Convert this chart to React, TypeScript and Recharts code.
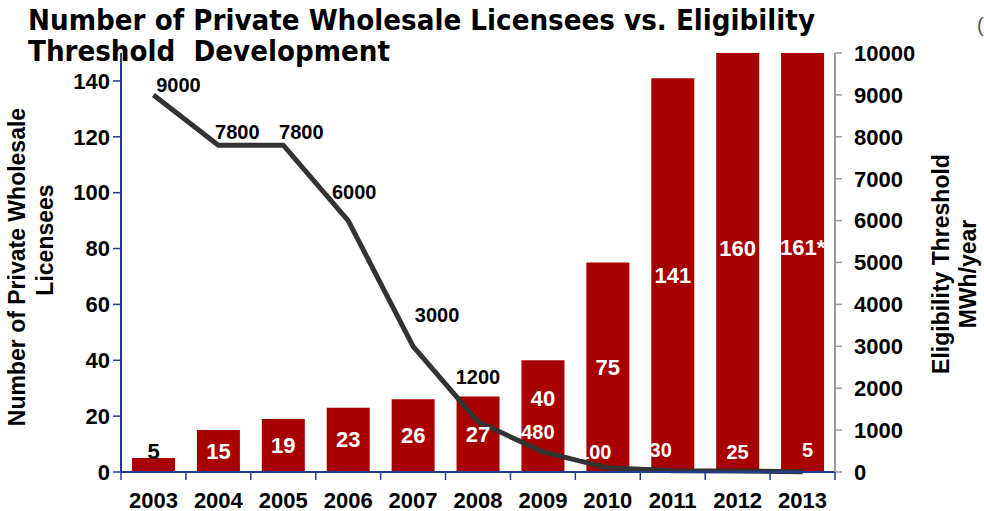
import React from 'react';
import { ComposedChart, Bar, Line, XAxis, YAxis, LabelList } from 'recharts';

const years = ['2003', '2004', '2005', '2006', '2007', '2008', '2009', '2010', '2011', '2012', '2013'];
const licensees = [5, 15, 19, 23, 26, 27, 40, 75, 141, 160, 161];
const licenseeLabels = ['5', '15', '19', '23', '26', '27', '40', '75', '141', '160', '161*'];
const threshold = [9000, 7800, 7800, 6000, 3000, 1200, 480, 100, 30, 25, 5];
const leftTicks = [0, 20, 40, 60, 80, 100, 120, 140];
const rightTicks = [0, 1000, 2000, 3000, 4000, 5000, 6000, 7000, 8000, 9000, 10000];

const data = years.map((year, i) => ({
  year,
  licensees: licensees[i],
  licenseeLabel: licenseeLabels[i],
  threshold: threshold[i],
}));

// label placement styles (offsets from the point, in px)
const lineLabelStyle = [
  { dx: 25, dy: -10, fill: '#000' },
  { dx: 19, dy: -13, fill: '#000' },
  { dx: 18, dy: -13, fill: '#000' },
  { dx: 6, dy: -29, fill: '#000' },
  { dx: 24, dy: -31, fill: '#000' },
  { dx: 0, dy: -45, fill: '#000' },
  { dx: -5, dy: -20, fill: '#fff' },
  { dx: -13, dy: -16, fill: '#fff' },
  { dx: -12, dy: -21, fill: '#fff' },
  { dx: 0, dy: -19, fill: '#fff' },
  { dx: 5, dy: -22, fill: '#fff' },
];

const FONT = '"Liberation Sans", Arial, sans-serif';
const BLUE = '#1F3C92';
const GREY = '#9A9A9A';
const RED = '#A80000';

const XTick = (props: any) => {
  const { x, y, payload, index, visibleTicksCount } = props;
  const half = payload && typeof payload.offset === 'number' && payload.offset > 0 ? payload.offset : 32.45;
  return (
    <g>
      <line x1={x - half} x2={x - half} y1={y} y2={y + 8} stroke={BLUE} strokeWidth={1.5} />
      {index === visibleTicksCount - 1 && (
        <line x1={x + half} x2={x + half} y1={y} y2={y + 8} stroke={BLUE} strokeWidth={1.5} />
      )}
      <text
        x={x}
        y={y + 28}
        textAnchor="middle"
        dominantBaseline="central"
        fontFamily={FONT}
        fontWeight="bold"
        fontSize={22}
        fill="#000"
      >
        {payload.value}
      </text>
    </g>
  );
};

const BarLabel = (props: any) => {
  const { x, y, width, height, index, value } = props;
  const cx = x + width / 2;
  let cy = y + height / 2;
  let fill = '#fff';
  if (index === 0) {
    cy = y - 7;
    fill = '#000';
  } else if (index === 6) {
    cy = cy - 18;
  }
  return (
    <text
      x={cx}
      y={cy}
      textAnchor="middle"
      dominantBaseline="central"
      fontFamily={FONT}
      fontWeight="bold"
      fontSize={22}
      fill={fill}
    >
      {value}
    </text>
  );
};

const LineLabel = (props: any) => {
  const { x, y, index, value } = props;
  const s = lineLabelStyle[index] || { dx: 0, dy: -15, fill: '#000' };
  return (
    <text
      x={x + s.dx}
      y={y + s.dy}
      textAnchor="middle"
      dominantBaseline="central"
      fontFamily={FONT}
      fontWeight="bold"
      fontSize={20}
      fill={s.fill}
    >
      {value}
    </text>
  );
};

const tickStyle = { fontFamily: FONT, fontWeight: 'bold', fontSize: 22, fill: '#000' } as any;

export default function App() {
  return (
    <div style={{ position: 'absolute', left: 0, top: 0, width: 984, height: 511, background: '#fff', overflow: 'hidden' }}>
      <ComposedChart
        width={984}
        height={511}
        data={data}
        margin={{ top: 53, right: 0, bottom: 0, left: 0 }}
        barCategoryGap={0}
      >
        <XAxis
          dataKey="year"
          height={39}
          tickLine={false}
          tickSize={0}
          tickMargin={0}
          axisLine={{ stroke: BLUE, strokeWidth: 2 }}
          tick={<XTick />}
          interval={0}
        />
        <YAxis
          yAxisId="left"
          orientation="left"
          width={121}
          domain={[0, 150]}
          ticks={leftTicks}
          allowDataOverflow
          axisLine={{ stroke: BLUE, strokeWidth: 2 }}
          tickLine={{ stroke: BLUE, strokeWidth: 1.5 }}
          tickSize={8}
          tickMargin={3}
          tick={tickStyle}
          interval={0}
        />
        <YAxis
          yAxisId="right"
          orientation="right"
          width={149}
          domain={[0, 10000]}
          ticks={rightTicks}
          axisLine={{ stroke: GREY, strokeWidth: 2 }}
          tickLine={{ stroke: GREY, strokeWidth: 1.5 }}
          tickSize={7}
          tickMargin={12}
          tick={tickStyle}
          interval={0}
        />
        <Bar yAxisId="left" dataKey="licensees" fill={RED} barSize={43} isAnimationActive={false}>
          <LabelList dataKey="licenseeLabel" content={<BarLabel />} />
        </Bar>
        <Line
          yAxisId="right"
          type="linear"
          dataKey="threshold"
          stroke="#333333"
          strokeWidth={5}
          dot={false}
          activeDot={false}
          isAnimationActive={false}
        >
          <LabelList dataKey="threshold" content={<LineLabel />} />
        </Line>
      </ComposedChart>
      <svg
        width={984}
        height={511}
        style={{ position: 'absolute', left: 0, top: 0, pointerEvents: 'none' }}
      >
        <text
          x={28}
          y={30}
          fontFamily='"DejaVu Sans", Verdana, sans-serif'
          fontWeight="bold"
          fontSize={28}
          textLength={787}
          lengthAdjust="spacingAndGlyphs"
          fill="#000"
        >
          Number of Private Wholesale Licensees vs. Eligibility
        </text>
        <text
          x={28}
          y={61}
          fontFamily='"DejaVu Sans", Verdana, sans-serif'
          fontWeight="bold"
          fontSize={28}
          textLength={362}
          lengthAdjust="spacingAndGlyphs"
          fill="#000"
          style={{ whiteSpace: 'pre' }}
        >
          {'Threshold  Development'}
        </text>
        <text
          transform="translate(17,267) rotate(-90)"
          textAnchor="middle"
          dominantBaseline="central"
          fontFamily={FONT}
          fontWeight="bold"
          fontSize={23}
          fill="#000"
        >
          Number of Private Wholesale
        </text>
        <text
          transform="translate(45,240) rotate(-90)"
          textAnchor="middle"
          dominantBaseline="central"
          fontFamily={FONT}
          fontWeight="bold"
          fontSize={23}
          fill="#000"
        >
          Licensees
        </text>
        <text
          transform="translate(941,264) rotate(-90)"
          textAnchor="middle"
          dominantBaseline="central"
          fontFamily={FONT}
          fontWeight="bold"
          fontSize={23}
          fill="#000"
        >
          Eligibility Threshold
        </text>
        <text
          transform="translate(968,274) rotate(-90)"
          textAnchor="middle"
          dominantBaseline="central"
          fontFamily={FONT}
          fontWeight="bold"
          fontSize={23}
          fill="#000"
        >
          MWh/year
        </text>
        <text x={977} y={32} fontFamily={FONT} fontSize={20} fill="#555">
          (
        </text>
      </svg>
    </div>
  );
}
